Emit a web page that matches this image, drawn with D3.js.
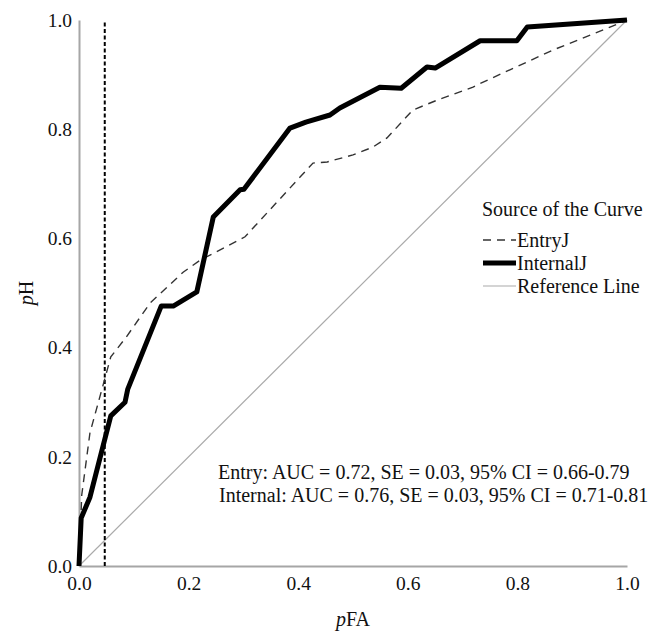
<!DOCTYPE html>
<html>
<head>
<meta charset="utf-8">
<script src="https://cdn.jsdelivr.net/npm/d3@7"></script>
<style>
  body { margin: 0; background: #fff; }
  text { font-family: "Liberation Serif", "Times New Roman", serif; fill: #111; }
</style>
</head>
<body>
<div id="chart"></div>
<script>
// ROC curves (pFA, pH)
const entryFA = [0, 0.005, 0.020, 0.040, 0.058, 0.086, 0.130, 0.190, 0.221, 0.303, 0.427, 0.453, 0.500, 0.536, 0.562, 0.609, 0.653, 0.719, 0.726, 0.865, 0.969, 1];
const entryH  = [0, 0.130, 0.244, 0.317, 0.383, 0.419, 0.482, 0.538, 0.560, 0.603, 0.738, 0.740, 0.753, 0.767, 0.784, 0.835, 0.853, 0.877, 0.881, 0.945, 0.987, 1];

const internalFA = [0, 0.004, 0.020, 0.058, 0.084, 0.089, 0.150, 0.172, 0.215, 0.245, 0.294, 0.301, 0.385, 0.414, 0.458, 0.476, 0.549, 0.588, 0.635, 0.650, 0.732, 0.799, 0.818, 1];
const internalH  = [0, 0.088, 0.126, 0.275, 0.300, 0.324, 0.476, 0.476, 0.502, 0.639, 0.689, 0.690, 0.802, 0.813, 0.826, 0.839, 0.877, 0.875, 0.914, 0.912, 0.962, 0.962, 0.987, 1];

const refFA = [0, 1];
const refH = [0, 1];

const cutoffFA = 0.047;

const ticks = [0, 0.2, 0.4, 0.6, 0.8, 1.0];
const legendLabels = ["EntryJ", "InternalJ", "Reference Line"];
const statLines = [
  "Entry: AUC = 0.72, SE = 0.03, 95% CI = 0.66-0.79",
  "Internal: AUC = 0.76, SE = 0.03, 95% CI = 0.71-0.81"
];

const width = 649, height = 633;
const margin = {left: 79, right: 22, top: 20, bottom: 67};

const x = d3.scaleLinear().domain([0, 1]).range([margin.left, width - margin.right]);
const y = d3.scaleLinear().domain([0, 1]).range([height - margin.bottom, margin.top]);

const svg = d3.select('#chart').append('svg')
  .attr('width', width)
  .attr('height', height);

const line = d3.line().x(d => x(d[0])).y(d => y(d[1]));

// axes: gray lines, no ticks
const xAxis = svg.append('g')
  .attr('transform', `translate(0,${y(0)})`)
  .call(d3.axisBottom(x).tickValues(ticks).tickFormat(d3.format('.1f')).tickSize(0).tickPadding(10));
const yAxis = svg.append('g')
  .attr('transform', `translate(${x(0)},0)`)
  .call(d3.axisLeft(y).tickValues(ticks).tickFormat(d3.format('.1f')).tickSize(0).tickPadding(7));
[xAxis, yAxis].forEach(g => {
  g.select('.domain').attr('stroke', '#a6a6a6').attr('stroke-width', 2);
  g.selectAll('text').attr('font-size', 19.5).attr('fill', '#111')
    .style('font-family', '"Liberation Serif", serif');
});

// reference diagonal
svg.append('path')
  .datum(d3.zip(refFA, refH))
  .attr('d', line)
  .attr('fill', 'none')
  .attr('stroke', '#aaa')
  .attr('stroke-width', 1.2);

// cut-off line
svg.append('line')
  .attr('x1', x(cutoffFA)).attr('x2', x(cutoffFA))
  .attr('y1', y(0)).attr('y2', y(1))
  .attr('stroke', '#000')
  .attr('stroke-width', 2)
  .attr('stroke-dasharray', '4,2.5');

svg.append('path')
  .datum(d3.zip(entryFA, entryH))
  .attr('d', line)
  .attr('fill', 'none')
  .attr('stroke', '#333')
  .attr('stroke-width', 1.4)
  .attr('stroke-dasharray', '8,6');

svg.append('path')
  .datum(d3.zip(internalFA, internalH))
  .attr('d', line)
  .attr('fill', 'none')
  .attr('stroke', '#000')
  .attr('stroke-width', 5)
  .attr('stroke-linejoin', 'round');

// axis titles
svg.append('text')
  .attr('x', x(0.5)).attr('y', 626)
  .attr('text-anchor', 'middle')
  .attr('font-size', 20)
  .html('<tspan font-style="italic">p</tspan>FA');

svg.append('text')
  .attr('transform', `translate(33,${y(0.5)}) rotate(-90)`)
  .attr('text-anchor', 'middle')
  .attr('font-size', 20)
  .html('<tspan font-style="italic">p</tspan>H');

// legend
const lg = svg.append('g').attr('transform', 'translate(482,0)');
lg.append('text').attr('x', 0).attr('y', 216).attr('font-size', 20).text('Source of the Curve');
const styles = [
  {stroke: '#333', w: 1.4, dash: '8,6'},
  {stroke: '#000', w: 5, dash: null},
  {stroke: '#aaa', w: 1.2, dash: null}
];
legendLabels.forEach((lab, i) => {
  const yy = 247 + i * 23;
  lg.append('line')
    .attr('x1', 1).attr('x2', 34)
    .attr('y1', yy - 7).attr('y2', yy - 7)
    .attr('stroke', styles[i].stroke)
    .attr('stroke-width', styles[i].w)
    .attr('stroke-dasharray', styles[i].dash);
  lg.append('text').attr('x', 35).attr('y', yy).attr('font-size', 20).text(lab);
});

// stats annotation
statLines.forEach((s, i) => {
  svg.append('text')
    .attr('x', i === 0 ? 218 : 219)
    .attr('y', 479 + i * 23)
    .attr('font-size', 20)
    .text(s);
});
</script>
</body>
</html>
